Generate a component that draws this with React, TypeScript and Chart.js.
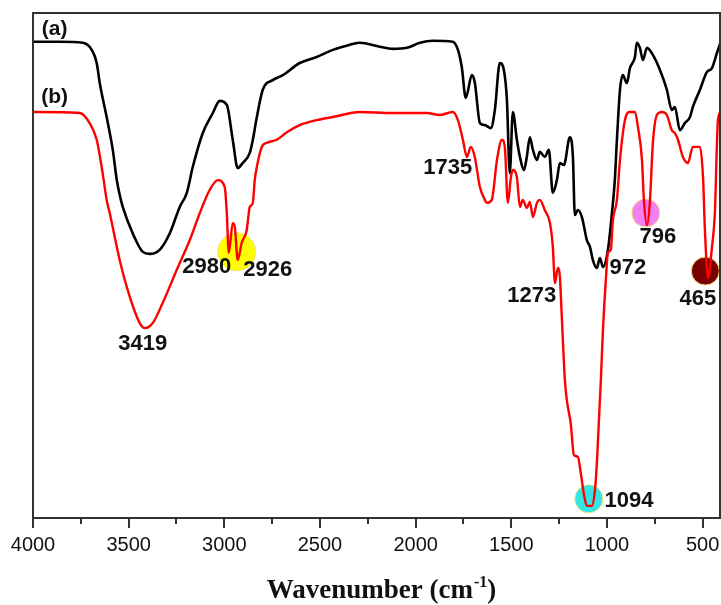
import React, { useEffect, useRef } from 'react';
import { Chart, registerables } from 'chart.js';

Chart.register(...registerables);

// Spectrum (a) – black
const wavenumbersA = [
  4000, 3860, 3740, 3693, 3667, 3651, 3615, 3583, 3562, 3547, 3531, 3479, 3426, 3390, 3338, 3285,
  3233, 3196, 3165, 3113, 3060, 3024, 2987, 2956, 2930, 2904, 2867, 2851, 2830, 2799, 2747, 2694,
  2606, 2517, 2433, 2381, 2292, 2187, 2119, 2046, 1978, 1910, 1806, 1779, 1759, 1738, 1706, 1691,
  1664, 1638, 1607, 1586, 1560, 1539, 1523, 1508, 1492, 1471, 1455, 1434, 1419, 1403, 1387, 1366,
  1351, 1325, 1304, 1283, 1262, 1246, 1225, 1194, 1178, 1168, 1152, 1131, 1105, 1089, 1074, 1053,
  1037, 1021, 995, 974, 959, 948, 932, 917, 896, 880, 854, 844, 828, 812, 791, 760,
  723, 687, 661, 645, 619, 593, 566, 551, 514, 478, 451, 425, 404,
];
const transmittanceA = [
  94.3, 94.3, 94.1, 92.7, 90.1, 86.1, 79.4, 72.9, 66.9, 64.0, 61.6, 56.4, 52.7, 52.3, 53.1, 56.4,
  61.6, 64.4, 69.5, 76.2, 80.2, 82.6, 81.8, 74.9, 69.3, 70.3, 72.3, 74.9, 79.4, 84.8, 86.7, 87.7,
  90.1, 91.3, 92.7, 93.3, 94.1, 93.3, 92.9, 93.1, 94.1, 94.5, 94.3, 92.7, 89.3, 83.2, 87.7, 86.3,
  78.2, 77.8, 77.2, 80.8, 90.1, 88.7, 82.8, 68.3, 80.4, 74.9, 71.5, 68.9, 71.5, 75.4, 72.9, 70.9,
  72.5, 71.5, 72.9, 64.4, 66.9, 70.3, 69.9, 75.4, 71.5, 60.0, 61.0, 59.6, 55.0, 53.7, 51.1, 49.5,
  51.5, 49.7, 53.1, 60.4, 66.9, 74.9, 84.8, 87.7, 86.1, 89.1, 91.3, 94.1, 93.1, 90.7, 93.1, 91.7,
  88.7, 84.8, 80.8, 81.4, 76.8, 78.2, 79.4, 81.4, 84.8, 88.3, 89.1, 92.1, 94.5,
];

// Spectrum (b) – red
const wavenumbersB = [
  4000, 3756, 3704, 3667, 3636, 3615, 3599, 3547, 3494, 3442, 3416, 3374, 3322, 3249, 3181, 3128,
  3076, 3034, 2998, 2987, 2977, 2956, 2945, 2930, 2909, 2883, 2867, 2851, 2841, 2830, 2804, 2778,
  2726, 2673, 2606, 2517, 2433, 2292, 2119, 1942, 1874, 1806, 1779, 1753, 1732, 1712, 1691, 1664,
  1638, 1628, 1602, 1575, 1549, 1534, 1518, 1502, 1492, 1471, 1455, 1440, 1419, 1403, 1387, 1366,
  1351, 1325, 1298, 1283, 1272, 1257, 1246, 1237, 1220, 1210, 1189, 1173, 1152, 1136, 1121, 1105,
  1079, 1063, 1053, 1042, 1032, 1021, 1006, 995, 980, 969, 948, 932, 906, 880, 854, 838,
  817, 807, 791, 776, 760, 739, 713, 687, 661, 645, 629, 603, 577, 551, 514, 498,
  488, 472, 451, 436, 420, 404,
];
const transmittanceB = [
  80.4, 80.2, 78.2, 74.9, 68.3, 63.0, 60.4, 51.1, 43.8, 38.6, 37.6, 38.6, 42.6, 49.1, 55.0, 60.4,
  65.0, 66.9, 65.5, 60.4, 52.5, 58.4, 57.6, 51.1, 54.5, 57.0, 61.6, 62.4, 66.9, 69.5, 73.5, 74.3,
  74.9, 76.4, 77.8, 78.8, 79.4, 80.4, 80.2, 80.2, 79.8, 80.4, 78.8, 74.9, 71.5, 73.5, 71.5, 65.5,
  63.0, 62.4, 63.0, 70.9, 74.9, 73.5, 62.4, 67.5, 68.9, 67.5, 61.6, 63.0, 61.4, 62.6, 59.6, 62.4,
  63.0, 61.0, 58.4, 53.7, 46.5, 49.5, 47.7, 40.6, 27.3, 23.4, 18.6, 12.5, 12.1, 8.7, 4.8, 2.4,
  2.4, 5.5, 10.7, 19.4, 27.3, 37.2, 47.1, 52.5, 53.1, 59.0, 63.0, 70.9, 78.8, 80.4, 80.4, 77.4,
  70.9, 63.0, 58.0, 62.4, 74.3, 79.8, 80.4, 79.8, 76.8, 76.2, 74.9, 71.5, 70.3, 73.5, 73.5, 67.5,
  57.0, 47.5, 53.7, 60.4, 78.8, 80.4,
];

// Axis ticks
const majorTicks = [4000, 3500, 3000, 2500, 2000, 1500, 1000, 500];
const minorTicks = [3750, 3250, 2750, 2250, 1750, 1250, 750];

// Highlight circles
const highlightX = [2935, 797, 486, 1095];
const highlightY = [52.7, 60.4, 48.9, 3.8];
const highlightColors = ['#ffff00', '#f47ff4', '#7a0000', '#33e6e6'];
const highlightRadius = [19, 14, 14, 14];

// Peak labels
const peakLabels = ['3419', '2980', '2926', '1735', '1273', '972', '796', '465', '1094'];
const peakLabelX = [3426, 3092, 2773, 1832, 1393, 891, 734, 525, 885];
const peakLabelY = [34.5, 49.7, 49.1, 69.3, 44.0, 49.5, 55.6, 43.4, 3.4];

// Curve labels
const curveLabels = ['(a)', '(b)'];
const curveLabelX = [3887, 3887];
const curveLabelY = [96.8, 83.4];

const titleMain = 'Wavenumber (cm';
const titleSup = '-1';
const titleEnd = ')';

const SANS = '"Liberation Sans", Arial, sans-serif';
const SERIF = '"Liberation Serif", "Times New Roman", serif';

const decorPlugin = {
  id: 'decor',
  afterDatasetsDraw(chart: any) {
    const { ctx, scales } = chart;
    const x = scales.x;
    const y = scales.y;
    ctx.save();
    ctx.fillStyle = '#111';
    ctx.textAlign = 'center';
    ctx.textBaseline = 'middle';
    ctx.font = `bold 22px ${SANS}`;
    peakLabels.forEach((t, i) => {
      ctx.fillText(t, x.getPixelForValue(peakLabelX[i]), y.getPixelForValue(peakLabelY[i]));
    });
    ctx.font = `bold 21px ${SANS}`;
    curveLabels.forEach((t, i) => {
      ctx.fillText(t, x.getPixelForValue(curveLabelX[i]), y.getPixelForValue(curveLabelY[i]));
    });
    ctx.restore();
  },
  afterDraw(chart: any) {
    const { ctx, chartArea: a, scales } = chart;
    const x = scales.x;
    ctx.save();
    ctx.strokeStyle = '#333';
    ctx.lineWidth = 2;
    ctx.strokeRect(a.left, a.top, a.right - a.left - 1, a.bottom - a.top);
    ctx.beginPath();
    majorTicks.forEach((v) => {
      const px = Math.round(x.getPixelForValue(v));
      ctx.moveTo(px, a.bottom);
      ctx.lineTo(px, a.bottom + 10);
    });
    minorTicks.forEach((v) => {
      const px = Math.round(x.getPixelForValue(v));
      ctx.moveTo(px, a.bottom);
      ctx.lineTo(px, a.bottom + 6);
    });
    ctx.stroke();

    // axis title with superscript
    const mainFont = `bold 27px ${SERIF}`;
    const supFont = `bold 16px ${SERIF}`;
    ctx.font = mainFont;
    const w1 = ctx.measureText(titleMain).width;
    const w3 = ctx.measureText(titleEnd).width;
    ctx.font = supFont;
    const w2 = ctx.measureText(titleSup).width;
    const total = w1 + w2 + w3;
    const cx = (a.left + a.right) / 2 + 4;
    let sx = cx - total / 2;
    const base = 598;
    ctx.fillStyle = '#111';
    ctx.textAlign = 'left';
    ctx.textBaseline = 'alphabetic';
    ctx.font = mainFont;
    ctx.fillText(titleMain, sx, base);
    sx += w1 + 1;
    ctx.font = supFont;
    ctx.fillText(titleSup, sx, base - 11);
    sx += w2;
    ctx.font = mainFont;
    ctx.fillText(titleEnd, sx, base);
    ctx.restore();
  },
};

export default function App() {
  const canvasRef = useRef<HTMLCanvasElement | null>(null);

  useEffect(() => {
    if (!canvasRef.current) return;
    Chart.defaults.font.family = SANS;
    const chart = new Chart(canvasRef.current, {
      type: 'line',
      data: {
        datasets: [
          {
            type: 'line',
            label: '(b)',
            data: wavenumbersB.map((w, i) => ({ x: w, y: transmittanceB[i] })),
            borderColor: '#ff0000',
            borderWidth: 2.4,
            pointRadius: 0,
            cubicInterpolationMode: 'monotone',
            order: 0,
          },
          {
            type: 'line',
            label: '(a)',
            data: wavenumbersA.map((w, i) => ({ x: w, y: transmittanceA[i] })),
            borderColor: '#000000',
            borderWidth: 2.6,
            pointRadius: 0,
            cubicInterpolationMode: 'monotone',
            order: 1,
          },
          {
            type: 'scatter',
            label: 'marks',
            data: highlightX.map((w, i) => ({ x: w, y: highlightY[i] })),
            backgroundColor: highlightColors,
            borderColor: '#f2e27a',
            borderWidth: 1,
            pointRadius: highlightRadius,
            pointHoverRadius: highlightRadius,
            showLine: false,
            order: 5,
          } as any,
        ],
      },
      options: {
        animation: false,
        responsive: false,
        devicePixelRatio: 1,
        layout: { autoPadding: false, padding: { left: 33, top: 13, right: 0, bottom: 48 } },
        plugins: { legend: { display: false }, tooltip: { enabled: false } },
        scales: {
          x: {
            type: 'linear',
            reverse: true,
            min: 404,
            max: 4000,
            grid: { display: false, drawTicks: true, tickLength: 15 },
            border: { display: false },
            afterBuildTicks: (scale: any) => {
              scale.ticks = majorTicks.map((v) => ({ value: v }));
            },
            afterFit: (scale: any) => {
              scale.paddingLeft = 0;
              scale.paddingRight = 0;
            },
            ticks: {
              padding: 0,
              color: '#111',
              font: { size: 20, family: SANS },
              autoSkip: false,
              maxRotation: 0,
              callback: (v: any) => String(v),
            },
          },
          y: { display: false, min: 0, max: 100 },
        },
      },
      plugins: [decorPlugin],
    });
    return () => chart.destroy();
  }, []);

  return (
    <div style={{ position: 'absolute', left: 0, top: 0, width: 721, height: 605, background: '#fff' }}>
      <canvas ref={canvasRef} width={721} height={605} style={{ width: 721, height: 605, display: 'block' }} />
    </div>
  );
}
